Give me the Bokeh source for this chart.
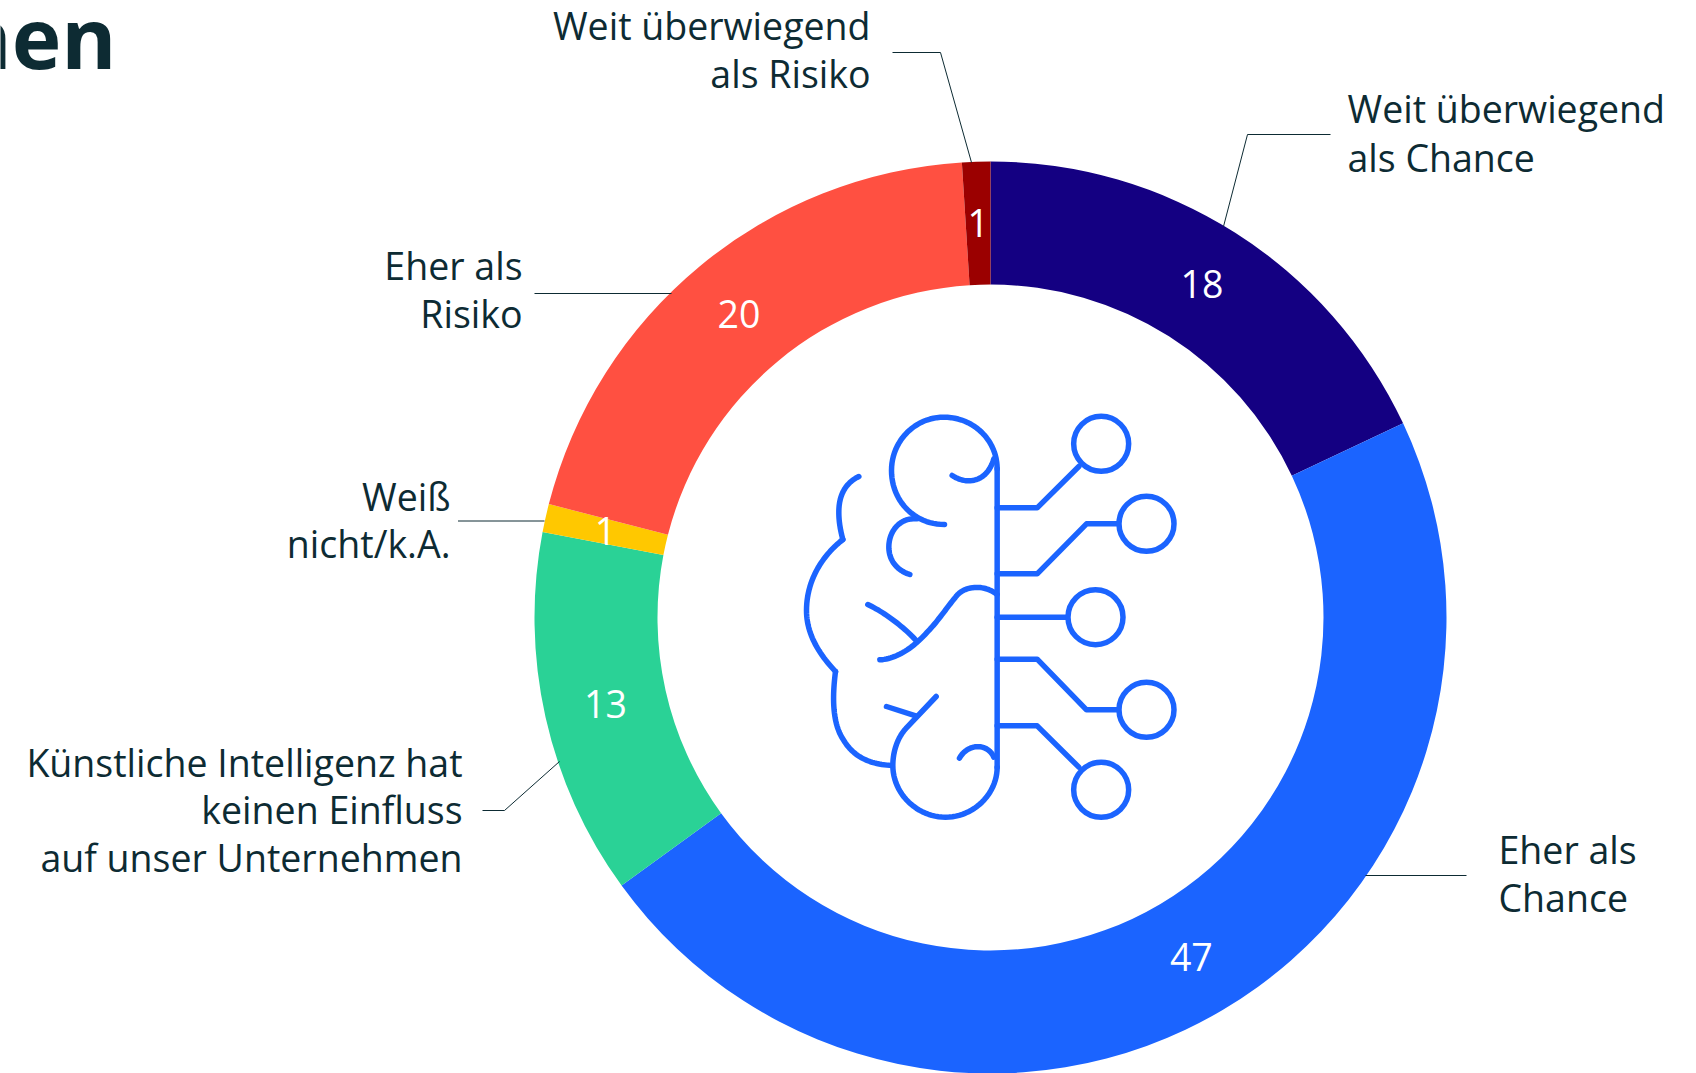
import math
from bokeh.plotting import figure
from bokeh.embed import file_html
from bokeh.resources import INLINE
from bokeh.core.properties import value

# ---------- data ----------
categories = ["Weit überwiegend als Chance", "Eher als Chance",
              "Künstliche Intelligenz hat keinen Einfluss auf unser Unternehmen",
              "Weiß nicht/k.A.", "Eher als Risiko", "Weit überwiegend als Risiko"]
values = [18, 47, 13, 1, 20, 1]
colors = ["#140082", "#1B64FF", "#2AD296", "#FFC800", "#FF5041", "#9B0000"]

INK = "#0D2B33"
BLUE = "#1B64FF"
FONT = "Open Sans"
LABEL_SIZE = "37.5px"

CX, CY = 990.0, 617.0   # centre of the ring on the page
R_OUT, R_IN = 456.0, 333.0

p = figure(width=1696, height=1073, output_backend="svg", toolbar_location=None,
           x_range=(-CX, 1696 - CX), y_range=(CY - 1073, CY),
           min_border=0, outline_line_color=None, background_fill_color="white")
p.xaxis.visible = False
p.yaxis.visible = False
p.grid.visible = False


def px(x):
    return x - CX


def py(y):
    return CY - y


# ---------- ring ----------
total = sum(values)
cum = 0.0
starts, ends, lx, ly = [], [], [], []
for v in values:
    a0 = math.pi / 2 - 2 * math.pi * cum / total
    a1 = math.pi / 2 - 2 * math.pi * (cum + v) / total
    mid = (a0 + a1) / 2
    starts.append(a0)
    ends.append(a1)
    lx.append((R_OUT + R_IN) / 2 * math.cos(mid))
    ly.append((R_OUT + R_IN) / 2 * math.sin(mid))
    cum += v

p.annular_wedge(x=0, y=0, inner_radius=R_IN, outer_radius=R_OUT,
                start_angle=starts, end_angle=ends, direction="clock",
                fill_color=colors, line_color=None)
p.text(x=lx, y=ly, text=[str(v) for v in values], text_color="white",
       text_font=value(FONT), text_font_size=LABEL_SIZE,
       text_align="center", text_baseline="middle")

# ---------- leader lines ----------
leaders = [
    [(892, 52), (940, 52), (971, 162)],
    [(1330, 134), (1247, 134), (1223, 226)],
    [(534, 293), (671, 293)],
    [(457.5, 520.5), (544, 520.5)],
    [(482, 810), (504, 810), (559, 761)],
    [(1466, 875), (1365, 875)],
]
p.multi_line([[px(a) for a, _ in l] for l in leaders],
             [[py(b) for _, b in l] for l in leaders],
             line_color=INK, line_width=1)

# ---------- labels ----------
labels = [
    ("Weit überwiegend", 870, 25, "right"), ("als Risiko", 870, 73, "right"),
    ("Weit überwiegend", 1347, 108, "left"), ("als Chance", 1347, 157, "left"),
    ("Eher als", 522, 265, "right"), ("Risiko", 522, 313, "right"),
    ("Weiß", 450, 496, "right"), ("nicht/k.A.", 450, 543, "right"),
    ("Künstliche Intelligenz hat", 462, 762, "right"),
    ("keinen Einfluss", 462, 809, "right"),
    ("auf unser Unternehmen", 462, 857, "right"),
    ("Eher als", 1498, 849, "left"), ("Chance", 1498, 897, "left"),
]
for t, x, y, al in labels:
    p.text(x=[px(x)], y=[py(y)], text=[t], text_color=INK, text_font=value(FONT),
           text_font_size=LABEL_SIZE, text_align=al, text_baseline="alphabetic")

# ---------- clipped title remainder ----------
p.text(x=[px(116)], y=[py(36)], text=["nen"], text_color=INK, text_font=value(FONT),
       text_font_style="bold", text_font_size="84px", text_align="right",
       text_baseline="alphabetic")

# ---------- brain icon (traced, in crop units of 3 per page pixel) ----------


def zx(x):
    return px(780 + x / 3)


def zy(y):
    return py(390 + y / 3)


def path(start, *segs):
    """Polyline from a start point and cubic (3 points) or straight (1 point) segments."""
    pts = [start]
    for s in segs:
        if len(s) == 1:
            pts.append(s[0])
        else:
            p0 = pts[-1]
            for i in range(1, 25):
                t = i / 24
                u = 1 - t
                pts.append(tuple(u**3 * p0[k] + 3 * u * u * t * s[0][k]
                                 + 3 * u * t * t * s[1][k] + t**3 * s[2][k] for k in (0, 1)))
    return pts


icon = [
    path((492, 402), ((400, 402), (333, 330), (333, 240)), ((333, 150), (405, 80), (490, 80)),
         ((580, 80), (650, 150), (650, 235))),
    path((515, 255), ((560, 285), (620, 275), (640, 205))),
    path((410, 385), ((360, 380), (325, 420), (325, 470)), ((325, 510), (350, 540), (388, 552))),
    path((235, 258), ((190, 280), (175, 320), (175, 365)), ((175, 395), (180, 420), (187, 447))),
    path((187, 447), ((120, 500), (78, 575), (78, 660)), ((78, 730), (115, 790), (165, 843))),
    path((165, 843), ((155, 920), (155, 1000), (190, 1050)), ((220, 1100), (270, 1122), (335, 1125))),
    path((298, 808), ((350, 805), (400, 770), (440, 725)), ((470, 695), (500, 650), (525, 620)),
         ((550, 585), (610, 580), (650, 612))),
    path((262, 642), ((310, 665), (365, 705), (405, 748))),
    path((467, 918), ((380, 1010),), ((350, 1040), (337, 1085), (337, 1125)),
         ((337, 1210), (410, 1280), (495, 1280)), ((580, 1280), (650, 1210), (650, 1130))),
    path((318, 948), ((408, 977),)),
    path((537, 1103), ((560, 1060), (620, 1055), (640, 1100))),
    path((650, 235), ((650, 1130),)),
    path((650, 352), ((770, 352),), ((895, 228),)),
    path((650, 550), ((770, 550),), ((918, 400),), ((1015, 400),)),
    path((650, 680), ((860, 680),)),
    path((650, 806), ((770, 806),), ((918, 958),), ((1015, 958),)),
    path((650, 1006), ((770, 1006),), ((895, 1130),)),
]
p.multi_line([[zx(a) for a, _ in l] for l in icon], [[zy(b) for _, b in l] for l in icon],
             line_color=BLUE, line_width=5.5, line_cap="round", line_join="round")

nodes = [(962, 160), (1098, 400), (945, 680), (1098, 958), (962, 1198)]
p.scatter([zx(a) for a, _ in nodes], [zy(b) for _, b in nodes], marker="circle", size=55,
          fill_color="white", line_color=BLUE, line_width=5.5)

open("out.html", "w").write(file_html(p, INLINE))
